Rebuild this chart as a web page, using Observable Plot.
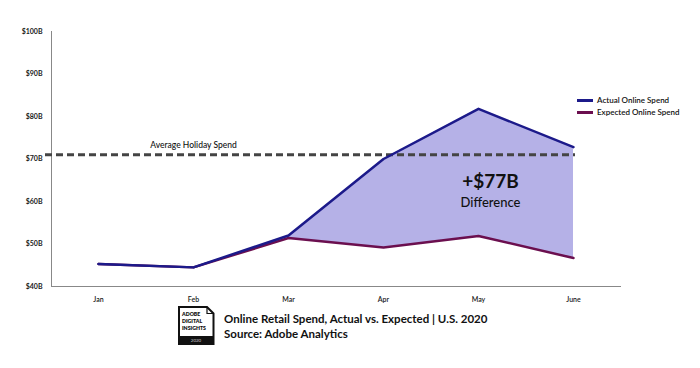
<!DOCTYPE html>
<html>
<head>
<meta charset="utf-8">
<script src="https://cdn.jsdelivr.net/npm/d3@7"></script>
<script src="https://cdn.jsdelivr.net/npm/@observablehq/plot@0.6"></script>
<style>
  body { margin: 0; background: #fff; font-family: Lato, "Open Sans", sans-serif; }
  #wrap { position: relative; width: 700px; height: 368px; overflow: hidden; }
  #legend { position: absolute; left: 577px; top: 94px; font-size: 8px; font-weight: 600; color: #111; }
  #legend div { display: flex; align-items: center; height: 12px; }
  #legend span.sw { display: inline-block; width: 16px; height: 3px; margin-right: 4px; }
  #caption { position: absolute; left: 178px; top: 306px; display: flex; align-items: center; }
  #caption .txt { margin-left: 9px; font-size: 11.5px; font-weight: 700; color: #111; line-height: 15px; }
</style>
</head>
<body>
<div id="wrap">
  <div id="chart"></div>
  <div id="legend"></div>
  <div id="caption"></div>
</div>
<script>
const months = ["Jan", "Feb", "Mar", "Apr", "May", "June"];
const actual = [45.3, 44.5, 52.0, 70.0, 81.8, 72.8];
const expected = [45.3, 44.5, 51.4, 49.2, 51.9, 46.7];
const averageHoliday = 71;
const yTicks = [40, 50, 60, 70, 80, 90, 100];
const seriesNames = ["Actual Online Spend", "Expected Online Spend"];
const colors = ["#1c1a8a", "#6b0f4f"];
const diffLabel = "+$77B";
const diffSub = "Difference";
const avgLabel = "Average Holiday Spend";
const titleText = "Online Retail Spend, Actual vs. Expected | U.S. 2020";
const sourceText = "Source: Adobe Analytics";

const rows = months.map((m, i) => ({month: m, actual: actual[i], expected: expected[i]}));
const gapRows = rows.filter(r => r.actual - r.expected > 0.5 || r.month === "Mar");

const chart = Plot.plot({
  width: 700,
  height: 308,
  marginLeft: 51,
  marginRight: 80,
  marginTop: 31,
  marginBottom: 22,
  style: {fontFamily: "Lato, 'Open Sans', sans-serif", overflow: "visible"},
  x: {type: "point", domain: months, padding: 0.49},
  y: {domain: [40, 100]},
  marks: [
    Plot.areaY(gapRows, {x: "month", y1: "expected", y2: "actual", fill: "#b5b1e7", curve: "linear"}),
    Plot.frame({anchor: "left", stroke: "#888", strokeWidth: 1}),
    Plot.frame({anchor: "bottom", stroke: "#888", strokeWidth: 1}),
    Plot.axisY({ticks: yTicks, tickSize: 0, tickPadding: 9, tickFormat: d => `$${d}B`, label: null, fontSize: 7, fontWeight: 700, fill: "#222"}),
    Plot.axisX({tickSize: 0, tickPadding: 11, label: null, fontSize: 7, fontWeight: 600, fill: "#222"}),
    Plot.ruleY([averageHoliday], {stroke: "#444", strokeWidth: 3, strokeDasharray: "7,4", insetLeft: -6, insetRight: 45}),
    Plot.text([avgLabel], {x: () => "Feb", y: () => averageHoliday, dy: -9, text: d => d, fontSize: 8.5, fontWeight: 500, fill: "#111"}),
    Plot.lineY(rows, {x: "month", y: "expected", stroke: colors[1], strokeWidth: 2.5}),
    Plot.lineY(rows, {x: "month", y: "actual", stroke: colors[0], strokeWidth: 2.5}),
    Plot.text([diffLabel], {x: () => "May", y: () => 64.7, dx: 12, text: d => d, fontSize: 19, fontWeight: 700, fill: "#111"}),
    Plot.text([diffSub], {x: () => "May", y: () => 59.8, dx: 12, text: d => d, fontSize: 13, fontWeight: 500, fill: "#111"})
  ]
});
document.getElementById("chart").appendChild(chart);

document.getElementById("legend").innerHTML = seriesNames.map((n, i) =>
  `<div><span class="sw" style="background:${colors[i]}"></span>${n}</div>`).join("");

const logo = `<svg width="37" height="39" viewBox="0 0 37 39">
  <path d="M1 1 H29 L35.5 7.5 V38 H1 Z" fill="#fff" stroke="#111" stroke-width="2"/>
  <path d="M29 1 V7.5 H35.5" fill="none" stroke="#111" stroke-width="1.2"/>
  <rect x="1" y="30" width="34.5" height="8" fill="#111"/>
  <text x="4" y="10" font-size="5.2" font-weight="800" fill="#111" font-family="Lato, sans-serif">ADOBE</text>
  <text x="4" y="17" font-size="5.2" font-weight="800" fill="#111" font-family="Lato, sans-serif">DIGITAL</text>
  <text x="4" y="24" font-size="5.2" font-weight="800" fill="#111" font-family="Lato, sans-serif">INSIGHTS</text>
  <text x="18" y="36" font-size="4.5" fill="#ccc" text-anchor="middle" font-family="Lato, sans-serif">2020</text>
</svg>`;
document.getElementById("caption").innerHTML = logo +
  `<div class="txt"><div>${titleText}</div><div>${sourceText}</div></div>`;
</script>
</body>
</html>
